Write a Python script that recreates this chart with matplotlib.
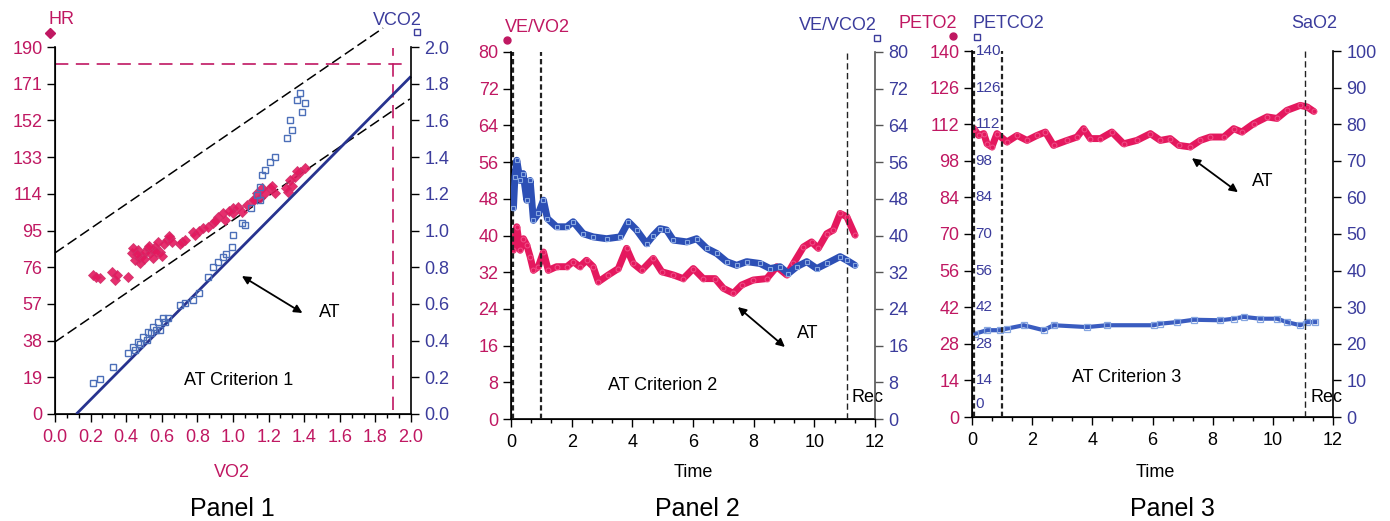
import matplotlib
matplotlib.use('Agg')
import matplotlib.pyplot as plt
from matplotlib.lines import Line2D
from matplotlib.ticker import MultipleLocator, FormatStrFormatter

plt.rcParams['font.family'] = ['Liberation Sans', 'DejaVu Sans']

# ---------------- data ----------------
# Panel 1: HR and VCO2 versus VO2
hr_vo2 = [0.215, 0.253, 0.318, 0.337, 0.412, 0.431, 0.449, 0.468, 0.478, 0.49,
          0.506, 0.52, 0.534, 0.548, 0.562, 0.58, 0.59, 0.61, 0.627, 0.646,
          0.712, 0.73, 0.777, 0.787, 0.833, 0.861, 0.889, 0.918, 0.946, 0.955,
          1.002, 1.03, 1.049, 1.114, 1.133, 1.161, 1.18, 1.208, 1.236, 1.311,
          1.32, 1.348, 1.376, 1.404,
          0.44, 0.47, 0.50, 0.55, 0.60, 0.66, 1.33, 1.36, 1.15, 1.22, 1.00, 0.90,
          0.23, 0.35, 0.46, 0.53, 0.57, 0.64, 0.70, 0.81, 0.98, 1.08, 1.12, 1.30]
hr_vals = [72, 70.2, 73.7, 69.4, 71.1, 83.2, 79.7, 84.9, 78, 82,
           84, 86, 83.2, 85, 86.6, 89.2, 84, 88, 90.1, 91,
           89.2, 90.1, 94.4, 92.7, 96.1, 97, 98.7, 102.1, 103.9, 100.4,
           106.5, 107.3, 104.7, 110.8, 114.3, 116.8, 114.3, 116.8, 114.3, 115.1,
           121.1, 122.9, 125.4, 127.2,
           86, 81, 80, 81, 82, 89, 118, 126, 112, 118, 104, 100,
           71, 72, 83, 87, 84, 92, 88, 95, 105, 108, 111, 117]
vco2_vo2 = [0.215, 0.253, 0.324, 0.412, 0.44, 0.468, 0.496, 0.515, 0.524, 0.552,
            0.58, 0.59, 0.608, 0.637, 0.702, 0.73, 0.777, 0.861, 0.889, 0.918,
            0.946, 0.993, 1.002, 1.049, 1.067, 1.133, 1.152, 1.152, 1.161, 1.18,
            1.208, 1.236, 1.302, 1.32, 1.329, 1.358, 1.376, 1.386, 1.404,
            0.45, 0.54, 0.57, 0.48, 0.62, 0.96, 1.10, 0.81]
vco2_vals = [0.167, 0.189, 0.258, 0.331, 0.367, 0.394, 0.421, 0.403, 0.449, 0.476,
             0.503, 0.458, 0.521, 0.521, 0.594, 0.603, 0.621, 0.748, 0.803, 0.83,
             0.857, 0.912, 0.975, 1.039, 1.03, 1.193, 1.166, 1.239, 1.302, 1.33,
             1.375, 1.402, 1.502, 1.602, 1.548, 1.711, 1.748, 1.648, 1.693,
             0.35, 0.44, 0.46, 0.38, 0.50, 0.87, 1.12, 0.66]
vco2_fit_vo2 = [0.12, 2.0]
vco2_fit_vals = [0.0, 1.84]
upper_ref_vo2 = [0.0, 1.843]
upper_ref_hr = [83.4, 199.8]
lower_ref_vo2 = [0.0, 1.994]
lower_ref_hr = [37.3, 163.1]
hr_max = 181
vo2_max = 1.9
hr_ticks = [0, 19, 38, 57, 76, 95, 114, 133, 152, 171, 190]

# Panel 2: ventilatory equivalents versus time
t_vevco2 = [0.08, 0.13, 0.19, 0.3, 0.4, 0.52, 0.63, 0.74, 0.9, 1.07, 1.2, 1.5, 1.84,
            2.05, 2.38, 2.71, 3.15, 3.6, 3.87, 4.14, 4.47, 4.69, 4.91, 5.13, 5.35,
            5.8, 6.12, 6.45, 6.78, 7.11, 7.44, 7.77, 8.21, 8.54, 8.87, 9.14, 9.42,
            9.75, 10.08, 10.41, 10.85, 11.07, 11.34]
vevco2 = [46, 52.8, 56.4, 52, 53.5, 47.7, 52, 43.3, 44.8, 47.7, 43.7, 41.9, 41.9,
          43, 40.4, 39.7, 39.3, 39.7, 43, 41.2, 38.2, 40, 41.5, 41.2, 39,
          38.6, 39.3, 37.2, 36.1, 34.3, 33.5, 34.3, 33.9, 32.8, 33.2, 31.7, 33.2,
          34.3, 32.8, 33.9, 35.4, 34.6, 33.5]
t_vevo2 = [0.08, 0.19, 0.3, 0.41, 0.52, 0.63, 0.74, 0.9, 1.07, 1.23, 1.5, 1.84, 2.05,
           2.27, 2.49, 2.71, 2.88, 3.21, 3.54, 3.81, 4.03, 4.31, 4.69, 4.97, 5.35,
           5.68, 6.01, 6.34, 6.73, 7.0, 7.33, 7.6, 7.99, 8.43, 8.76, 9.09, 9.31,
           9.64, 9.91, 10.13, 10.41, 10.63, 10.85, 11.07, 11.34]
vevo2 = [36.8, 41.9, 36.8, 39.3, 37.9, 35.4, 32.4, 33.2, 36.4, 32.4, 33.2, 33.2, 34.3,
         33.2, 34.6, 33.2, 29.9, 31.4, 32.8, 37.2, 33.9, 32.4, 35, 32.1, 31.4,
         30.6, 32.8, 30.6, 30.6, 28.5, 27.4, 29.2, 30.3, 30.6, 33.2, 31.4, 33.9,
         37.5, 38.6, 37.2, 40.4, 41.2, 44.8, 44.1, 40.1]

# Panel 3: end-tidal gases versus time
t_peto2 = [0.06, 0.22, 0.39, 0.5, 0.66, 0.83, 1.16, 1.5, 1.83, 2.16, 2.44, 2.71,
           3.16, 3.49, 3.71, 3.93, 4.27, 4.65, 5.04, 5.48, 5.93, 6.26, 6.59, 6.87,
           7.26, 7.59, 7.92, 8.37, 8.7, 8.97, 9.36, 9.81, 10.14, 10.47, 10.91,
           11.14, 11.36]
peto2 = [110.3, 107.7, 108.4, 104.5, 103.3, 108.4, 105.2, 107.7, 105.8, 107.7, 109,
         103.9, 105.8, 107.1, 110.3, 106.5, 106.5, 109, 104.5, 105.8, 108.4, 105.8,
         106.5, 103.9, 103.3, 105.8, 107.1, 107.1, 110.3, 109, 112.2, 114.8, 114.2,
         117.3, 119.2, 118.6, 116.9]
t_petco2 = [0.11, 0.5, 0.94, 1.16, 1.72, 2.38, 2.71, 3.82, 4.49, 6.04, 6.26, 6.81,
            7.37, 8.25, 8.7, 9.03, 9.58, 10.14, 10.47, 10.91, 11.14, 11.41]
petco2 = [31.9, 33.2, 33.2, 33.8, 35.1, 33.2, 35.1, 34.4, 35.1, 35.1, 35.7, 36.3,
          37.2, 37.0, 37.6, 38.3, 37.6, 37.6, 36.3, 35.1, 36.3, 36.3]
pet_ticks = [0, 14, 28, 42, 56, 70, 84, 98, 112, 126, 140]
phase_lines = [0.08, 1.0, 11.08]

# ---------------- style ----------------
MAG = '#C01862'
PINK = '#E4185E'
BLUE_T = '#3B3C9C'
BLUE = '#2C4FB5'
BLUE_L = '#86A6E0'
W, H = 1390, 521
FS = 13

fig = plt.figure(figsize=(W / 100, H / 100), dpi=100)


def fx(px):
    return px / W


def fy(py):
    return 1 - py / H


def style_axes(ax, axr, left_color, right_color, xlabel_color):
    ax.spines['top'].set_visible(False)
    axr.spines['top'].set_visible(False)
    ax.spines['right'].set_visible(False)
    ax.tick_params(axis='y', direction='out', length=5.5, width=1, labelsize=FS,
                   labelcolor=left_color, pad=3.5)
    axr.tick_params(axis='y', direction='out', length=5.5, width=1, labelsize=FS,
                    labelcolor=right_color, pad=4)
    ax.tick_params(axis='x', which='major', direction='out', length=5.5, width=1,
                   labelsize=FS, labelcolor=xlabel_color, pad=5.5)
    ax.tick_params(axis='x', which='minor', direction='out', length=3, width=1)
    for s in ['left', 'bottom']:
        ax.spines[s].set_linewidth(1.2)
    axr.spines['right'].set_linewidth(1.2)


# ================= Panel 1 =================
ax1 = fig.add_axes([fx(55), fy(414), fx(356), 367 / H])
ax1r = ax1.twinx()
ax1.set_xlim(0, 2)
ax1.set_ylim(0, 190)
ax1r.set_ylim(0, 2)
ax1.set_yticks(hr_ticks)
ax1r.yaxis.set_major_locator(MultipleLocator(0.2))
ax1r.yaxis.set_major_formatter(FormatStrFormatter('%.1f'))
ax1.xaxis.set_major_locator(MultipleLocator(0.2))
ax1.xaxis.set_minor_locator(MultipleLocator(0.2 / 3))
ax1.xaxis.set_major_formatter(FormatStrFormatter('%.1f'))
style_axes(ax1, ax1r, MAG, BLUE_T, MAG)

ax1.plot(upper_ref_vo2, upper_ref_hr, color='black', lw=1.1, dashes=(7, 3),
         clip_on=False, zorder=2)
ax1.plot(lower_ref_vo2, lower_ref_hr, color='black', lw=1.1, dashes=(7, 3), zorder=2)
ax1.plot([0, 1.96], [hr_max, hr_max], color=MAG, lw=1.2, dashes=(8, 4.5), zorder=2)
ax1.plot([vo2_max, vo2_max], [2, 189.5], color=MAG, lw=1.2, dashes=(8, 4.5), zorder=2)
ax1.plot(hr_vo2, hr_vals, linestyle='none', marker='D', ms=4.8, mfc=PINK,
         mec='#D0306A', mew=0.6, alpha=0.9, zorder=3)
ax1r.plot(vco2_fit_vo2, vco2_fit_vals, color='#27338F', lw=2.0, clip_on=False,
          solid_capstyle='butt', zorder=2)
ax1r.plot(vco2_vo2, vco2_vals, linestyle='none', marker='s', ms=4.2, mfc='none',
          mec='#4C6FB8', mew=1.0, zorder=3)

ax1.annotate('', xy=(1.05, 71.4), xytext=(1.39, 52.3),
             arrowprops=dict(arrowstyle='<|-|>', color='black', lw=1.3,
                             mutation_scale=12, shrinkA=0, shrinkB=0))
ax1.text(1.545, 52.8, 'AT', fontsize=FS, ha='center', va='center')
ax1.text(1.03, 17.6, 'AT Criterion 1', fontsize=FS, ha='center', va='center')

fig.text(fx(61), fy(24), 'HR', color=MAG, fontsize=FS, ha='center', va='baseline')
fig.text(fx(397), fy(25), 'VCO2', color=BLUE_T, fontsize=FS, ha='center', va='baseline')
fig.add_artist(Line2D([fx(50)], [fy(33)], marker='D', ms=5, color=MAG,
                      transform=fig.transFigure))
fig.add_artist(Line2D([fx(417)], [fy(32)], marker='s', ms=5, mfc='white',
                      mec=BLUE_T, mew=1.0, transform=fig.transFigure))
fig.text(fx(232), fy(477), 'VO2', color=MAG, fontsize=FS, ha='center', va='baseline')
fig.text(fx(232), fy(516), 'Panel 1', fontsize=18, ha='center', va='baseline')

# ================= Panel 2 =================
ax2 = fig.add_axes([fx(511), fy(419), fx(364), 367 / H])
ax2r = ax2.twinx()
ax2.set_xlim(0, 12)
ax2.set_ylim(0, 80)
ax2r.set_ylim(0, 80)
ax2.yaxis.set_major_locator(MultipleLocator(8))
ax2r.yaxis.set_major_locator(MultipleLocator(8))
ax2.xaxis.set_major_locator(MultipleLocator(2))
ax2.xaxis.set_minor_locator(MultipleLocator(2 / 3))
style_axes(ax2, ax2r, MAG, BLUE_T, 'black')
ax2r.spines['right'].set_color('#555555')
ax2r.tick_params(axis='y', color='#555555')

for i, tl in enumerate(phase_lines):
    lw = 1.6 if i < 2 else 1.0
    ds = (2.4, 1.4) if i < 2 else (4.5, 2.5)
    ax2.plot([tl, tl], [0, 80], color='#222222', lw=lw, dashes=ds, zorder=4)

ax2.plot(t_vevo2, vevo2, color=PINK, lw=5, solid_joinstyle='round',
         solid_capstyle='round', zorder=3)
ax2.plot(t_vevo2, vevo2, linestyle='none', marker='o', ms=3.5, mfc='none',
         mec='#F05088', mew=0.7, zorder=3)
ax2r.plot(t_vevco2, vevco2, color=BLUE, lw=5, solid_joinstyle='round',
          solid_capstyle='round', zorder=3)
ax2r.plot(t_vevco2, vevco2, linestyle='none', marker='s', ms=3.5, mfc='none',
          mec=BLUE_L, mew=0.8, zorder=3)

ax2.annotate('', xy=(7.48, 24.4), xytext=(9.03, 15.7),
             arrowprops=dict(arrowstyle='<|-|>', color='black', lw=1.3,
                             mutation_scale=12, shrinkA=0, shrinkB=0))
ax2.text(9.79, 18.7, 'AT', fontsize=FS, ha='center', va='center')
ax2.text(5.01, 7.4, 'AT Criterion 2', fontsize=FS, ha='center', va='center')
ax2.text(11.74, 4.6, 'Rec', fontsize=FS, ha='center', va='center', clip_on=False,
         zorder=6)

fig.text(fx(537), fy(32), 'VE/VO2', color=MAG, fontsize=FS, ha='center', va='baseline')
fig.text(fx(838), fy(30), 'VE/VCO2', color=BLUE_T, fontsize=FS, ha='center',
         va='baseline')
fig.add_artist(Line2D([fx(507)], [fy(40)], marker='o', ms=5, color=MAG,
                      transform=fig.transFigure))
fig.add_artist(Line2D([fx(877)], [fy(38)], marker='s', ms=5, mfc='white',
                      mec=BLUE_T, mew=1.0, transform=fig.transFigure))
fig.text(fx(693), fy(477), 'Time', fontsize=FS, ha='center', va='baseline')
fig.text(fx(697), fy(516), 'Panel 2', fontsize=18, ha='center', va='baseline')

# ================= Panel 3 =================
ax3 = fig.add_axes([fx(972), fy(417), fx(361), 366 / H])
ax3r = ax3.twinx()
ax3.set_xlim(0, 12)
ax3.set_ylim(0, 140)
ax3r.set_ylim(0, 100)
ax3.set_yticks(pet_ticks)
ax3r.yaxis.set_major_locator(MultipleLocator(10))
ax3.xaxis.set_major_locator(MultipleLocator(2))
ax3.xaxis.set_minor_locator(MultipleLocator(2 / 3))
style_axes(ax3, ax3r, MAG, BLUE_T, 'black')

for v in pet_ticks:
    off = 9 if v == 0 else 0
    ax3.annotate(str(v), xy=(0, v), xytext=(2.5, off), textcoords='offset points',
                 fontsize=11, color=BLUE_T, ha='left', va='center', zorder=5)

for i, tl in enumerate(phase_lines):
    lw = 1.6 if i < 2 else 1.0
    ds = (2.4, 1.4) if i < 2 else (4.5, 2.5)
    ax3.plot([tl, tl], [0, 140], color='#222222', lw=lw, dashes=ds, zorder=4)

ax3.plot(t_peto2, peto2, color=PINK, lw=5, solid_joinstyle='round',
         solid_capstyle='round', zorder=3)
ax3.plot(t_peto2, peto2, linestyle='none', marker='o', ms=3.5, mfc='none',
         mec='#F05088', mew=0.7, zorder=3)
ax3.plot(t_petco2, petco2, color='#3A5CC0', lw=3, solid_joinstyle='round',
         zorder=3)
ax3.plot(t_petco2, petco2, linestyle='none', marker='s', ms=4, mfc='none',
         mec=BLUE_L, mew=0.9, zorder=3)

ax3.annotate('', xy=(7.31, 99), xytext=(8.84, 86),
             arrowprops=dict(arrowstyle='<|-|>', color='black', lw=1.3,
                             mutation_scale=12, shrinkA=0, shrinkB=0))
ax3.text(9.67, 90, 'AT', fontsize=FS, ha='center', va='center')
ax3.text(5.15, 15.3, 'AT Criterion 3', fontsize=FS, ha='center', va='center')
ax3.text(11.77, 7.6, 'Rec', fontsize=FS, ha='center', va='center', clip_on=False,
         zorder=6)

fig.text(fx(957), fy(28), 'PETO2', color=MAG, fontsize=FS, ha='right', va='baseline')
fig.text(fx(973), fy(28), 'PETCO2', color=BLUE_T, fontsize=FS, ha='left', va='baseline')
fig.text(fx(1314), fy(28), 'SaO2', color=BLUE_T, fontsize=FS, ha='center', va='baseline')
fig.add_artist(Line2D([fx(953)], [fy(36)], marker='o', ms=5, color=MAG,
                      transform=fig.transFigure))
fig.add_artist(Line2D([fx(977)], [fy(37)], marker='s', ms=5, mfc='white',
                      mec=BLUE_T, mew=1.0, transform=fig.transFigure))
fig.text(fx(1155), fy(477), 'Time', fontsize=FS, ha='center', va='baseline')
fig.text(fx(1172), fy(516), 'Panel 3', fontsize=18, ha='center', va='baseline')

fig.savefig('out.png', dpi=100)
